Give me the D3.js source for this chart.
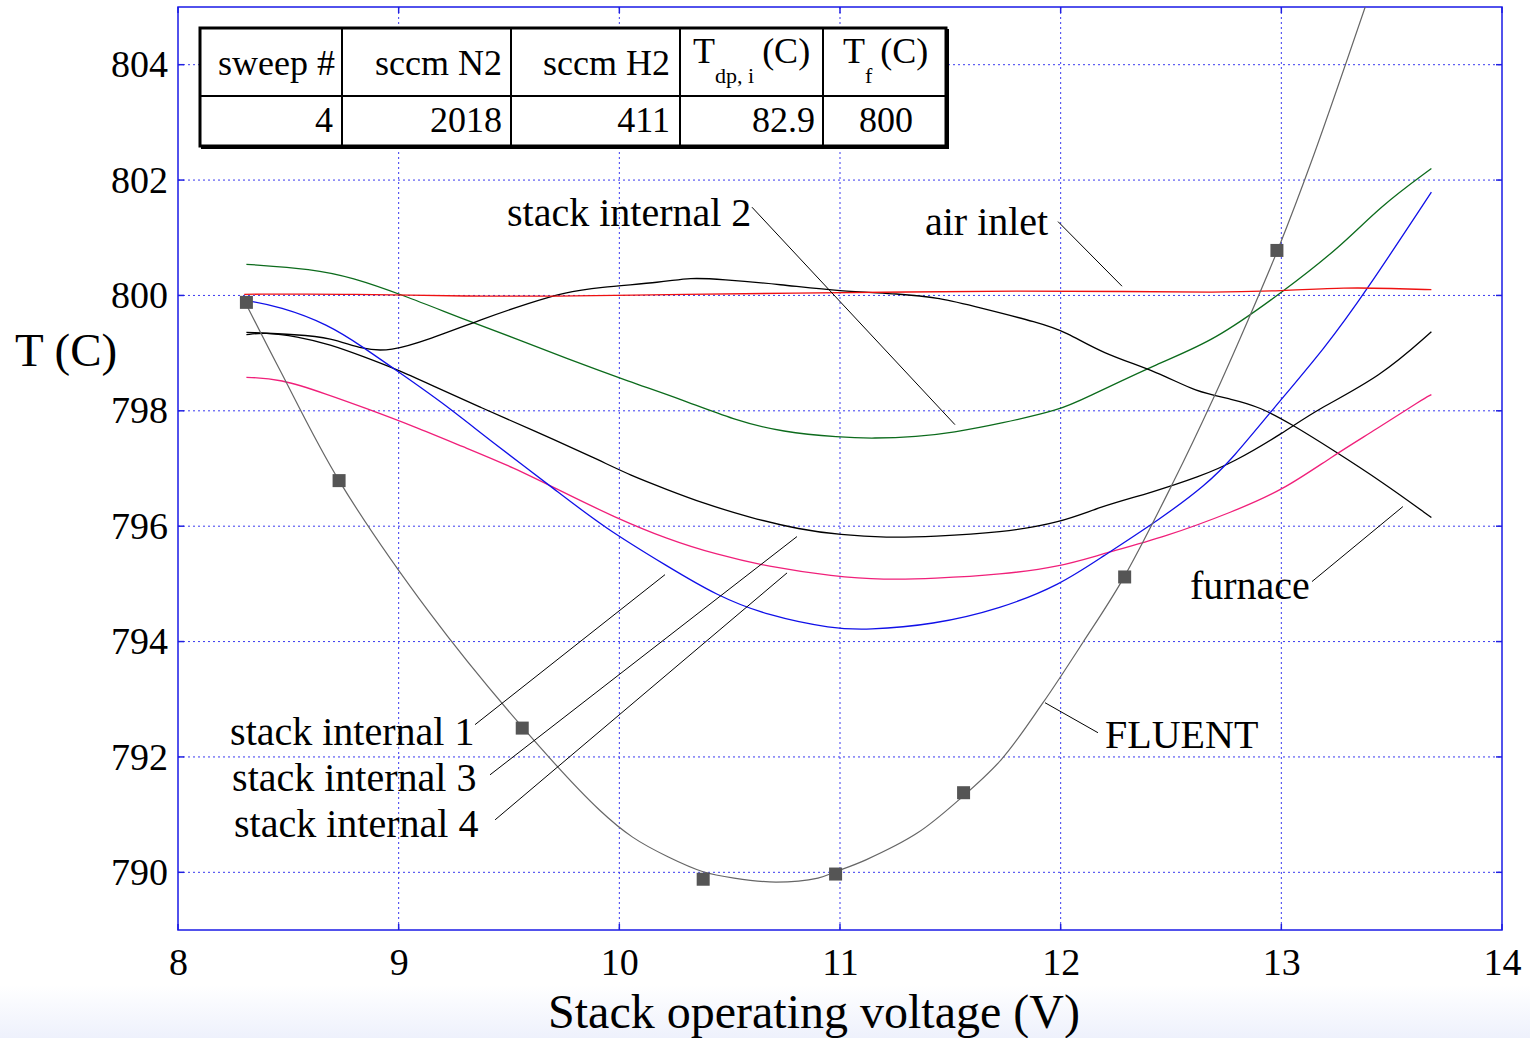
<!DOCTYPE html>
<html>
<head>
<meta charset="utf-8">
<script src="https://cdn.jsdelivr.net/npm/d3@7"></script>
<style>
  body { margin: 0; background: #fff; }
  svg { display: block; font-family: "Liberation Serif", "Times New Roman", serif; }
  .tick text { fill: #000; }
</style>
</head>
<body>
<div id="chart"></div>
<script>
// 1: DATA
const xTicks = [8, 9, 10, 11, 12, 13, 14];
const yTicks = [790, 792, 794, 796, 798, 800, 802, 804];

// air inlet (red)
const airV = [8.3, 8.8, 9.3, 9.8, 10.3, 10.8, 11.3, 11.8, 12.3, 12.7, 13.0, 13.3, 13.5, 13.68];
const airT = [800.02, 800.03, 799.98, 799.99, 800.02, 800.04, 800.06, 800.08, 800.07, 800.05, 800.08, 800.14, 800.12, 800.1];

// stack internal 2 (green)
const si2V = [8.31, 8.61, 8.79, 9.01, 9.32, 9.54, 9.75, 10.05, 10.28, 10.52, 10.74, 11.0, 11.15, 11.35, 11.51, 11.73, 12.0, 12.1, 12.45, 12.69, 13.01, 13.27, 13.45, 13.68];
const si2T = [800.54, 800.46, 800.31, 800.02, 799.55, 799.24, 798.92, 798.5, 798.2, 797.84, 797.63, 797.54, 797.52, 797.55, 797.62, 797.78, 798.02, 798.2, 798.84, 799.2, 800.07, 800.85, 801.55, 802.2];

// stack internal 1 (blue)
const si1V = [8.31, 8.46, 8.68, 8.84, 8.99, 9.2, 9.41, 9.72, 9.93, 10.22, 10.44, 10.67, 10.97, 11.12, 11.42, 11.73, 12.0, 12.18, 12.45, 12.66, 12.78, 12.96, 13.2, 13.38, 13.68];
const si1T = [799.91, 799.81, 799.5, 799.1, 798.7, 798.14, 797.5, 796.6, 795.98, 795.3, 794.8, 794.45, 794.22, 794.2, 794.29, 794.57, 794.99, 795.45, 796.12, 796.72, 797.18, 798.02, 799.1, 800.05, 801.79];

// furnace (black, upper)
const furV = [8.31, 8.54, 8.69, 8.84, 8.96, 9.14, 9.37, 9.6, 9.75, 9.9, 10.2, 10.32, 10.46, 10.73, 11.0, 11.27, 11.45, 11.63, 11.9, 12.03, 12.18, 12.45, 12.61, 12.78, 12.9, 13.05, 13.23, 13.46, 13.68];
const furT = [799.36, 799.32, 799.27, 799.06, 799.03, 799.24, 799.58, 799.88, 800.05, 800.14, 800.23, 800.31, 800.28, 800.19, 800.07, 800.03, 799.96, 799.79, 799.53, 799.36, 799.01, 798.66, 798.33, 798.2, 798.07, 797.76, 797.33, 796.76, 796.15];

// stack internal 3 (black, lower)
const si3V = [8.31, 8.39, 8.54, 8.69, 8.84, 8.99, 9.14, 9.37, 9.6, 9.9, 10.05, 10.22, 10.37, 10.59, 10.82, 11.0, 11.21, 11.42, 11.73, 12.0, 12.18, 12.41, 12.63, 12.78, 13.01, 13.16, 13.45, 13.68];
const si3T = [799.32, 799.36, 799.29, 799.15, 798.94, 798.72, 798.46, 798.06, 797.68, 797.16, 796.88, 796.63, 796.41, 796.15, 795.94, 795.85, 795.8, 795.82, 795.89, 796.06, 796.34, 796.58, 796.86, 797.1, 797.62, 798.02, 798.59, 799.37];

// stack internal 4 (pink)
const si4V = [8.31, 8.46, 8.68, 8.84, 9.07, 9.29, 9.52, 9.75, 9.97, 10.22, 10.44, 10.67, 10.97, 11.2, 11.42, 11.73, 12.0, 12.18, 12.48, 12.78, 13.01, 13.23, 13.43, 13.64, 13.68];
const si4T = [798.58, 798.56, 798.28, 798.06, 797.73, 797.38, 797.02, 796.58, 796.17, 795.77, 795.51, 795.3, 795.13, 795.07, 795.09, 795.16, 795.3, 795.51, 795.82, 796.25, 796.63, 797.21, 797.68, 798.2, 798.28];

// FLUENT points (squares) and its fitted curve (grey)
const fluentV = [8.31, 8.73, 9.56, 10.38, 10.98, 11.56, 12.29, 12.98];
const fluentT = [799.88, 796.79, 792.5, 789.88, 789.97, 791.38, 795.12, 800.78];
const fitV = [8.31, 8.46, 8.73, 9.14, 9.56, 9.91, 10.06, 10.22, 10.38, 10.52, 10.71, 10.9, 10.98, 11.12, 11.35, 11.54, 11.73, 11.92, 12.1, 12.28, 12.51, 12.69, 12.85, 12.99, 13.14, 13.38];
const fitT = [799.84, 798.72, 796.79, 794.5, 792.52, 791.08, 790.61, 790.27, 790.01, 789.9, 789.83, 789.9, 790.01, 790.22, 790.68, 791.26, 791.95, 792.94, 793.98, 795.07, 796.76, 798.2, 799.58, 800.85, 802.36, 805.0];

// table
const tableHead = ["sweep #", "sccm N2", "sccm H2"];
const tableRow = ["4", "2018", "411", "82.9", "800"];

// annotations: [label, textV, textT, leader start V,T, leader end V,T]
const notes = [
  ["stack internal 2", 9.491, 801.21, 10.601, 801.53, 11.521, 797.76],
  ["air inlet", 11.385, 801.04, 11.988, 801.28, 12.278, 800.16],
  ["furnace", 12.586, 794.73, 13.139, 795.04, 13.551, 796.34],
  ["FLUENT", 12.201, 792.16, 12.169, 792.42, 11.929, 792.94],
  ["stack internal 1", 8.236, 792.21, 9.346, 792.56, 10.207, 795.16],
  ["stack internal 3", 8.245, 791.41, 9.414, 791.69, 10.805, 795.82],
  ["stack internal 4", 8.254, 790.61, 9.437, 790.91, 10.760, 795.19]
];

// 2: SVG
const W = 1530, H = 1038;
const margin = { top: 7, right: 28, bottom: 108, left: 178 },
      width = W - margin.left - margin.right,
      height = H - margin.top - margin.bottom;

const svg = d3.select("#chart").append("svg")
    .attr("width", W).attr("height", H);

// faint bluish band at the bottom of the page
const grad = svg.append("defs").append("linearGradient")
    .attr("id", "bottomFade").attr("x1", 0).attr("y1", 0).attr("x2", 0).attr("y2", 1);
grad.append("stop").attr("offset", "0%").attr("stop-color", "#ffffff");
grad.append("stop").attr("offset", "100%").attr("stop-color", "#eef1fc");
svg.append("rect").attr("x", 0).attr("y", 985).attr("width", W).attr("height", H - 985)
    .attr("fill", "url(#bottomFade)");

const g = svg.append("g").attr("transform", `translate(${margin.left},${margin.top})`);

// 3: SCALES
const x = d3.scaleLinear().domain([8, 14]).range([0, width]);
const y = d3.scaleLinear().domain([789, 805]).range([height, 0]);

// 4: GRID
g.append("g").selectAll("line").data(xTicks.slice(1, -1)).enter().append("line")
    .attr("x1", d => x(d)).attr("x2", d => x(d)).attr("y1", 0).attr("y2", height)
    .attr("stroke", "#3a3af0").attr("stroke-width", 1).attr("stroke-dasharray", "2,3");
g.append("g").selectAll("line").data(yTicks).enter().append("line")
    .attr("y1", d => y(d)).attr("y2", d => y(d)).attr("x1", 0).attr("x2", width)
    .attr("stroke", "#3a3af0").attr("stroke-width", 1).attr("stroke-dasharray", "2,3");

// 5: AXES
const xAxis = g.append("g").attr("transform", `translate(0,${height})`)
    .call(d3.axisBottom(x).tickValues(xTicks).tickFormat(d3.format("d")).tickSize(0).tickPadding(18));
xAxis.select(".domain").remove();
xAxis.selectAll("text").attr("font-size", 38).attr("font-family", "Liberation Serif");

const yAxis = g.append("g")
    .call(d3.axisLeft(y).tickValues(yTicks).tickFormat(d3.format("d")).tickSize(0).tickPadding(10));
yAxis.select(".domain").remove();
yAxis.selectAll("text").attr("font-size", 38).attr("font-family", "Liberation Serif");

// small inner ticks on all four edges
const edge = g.append("g").attr("stroke", "#2020e0").attr("stroke-width", 1.5);
yTicks.forEach(t => {
  edge.append("line").attr("x1", 0).attr("x2", 6).attr("y1", y(t)).attr("y2", y(t));
  edge.append("line").attr("x1", width - 6).attr("x2", width).attr("y1", y(t)).attr("y2", y(t));
});
xTicks.forEach(t => {
  edge.append("line").attr("y1", 0).attr("y2", 6).attr("x1", x(t)).attr("x2", x(t));
  edge.append("line").attr("y1", height - 6).attr("y2", height).attr("x1", x(t)).attr("x2", x(t));
});

// frame
g.append("rect").attr("width", width).attr("height", height)
    .attr("fill", "none").attr("stroke", "#1a1ae6").attr("stroke-width", 1.5);

// 6: LINES
const pairs = (vs, ts) => vs.map((v, i) => [v, ts[i]]);
const smooth = d3.line().x(d => x(d[0])).y(d => y(d[1])).curve(d3.curveBasis);
const fitLine = d3.line().x(d => x(d[0])).y(d => y(d[1])).curve(d3.curveCatmullRom);

g.append("defs").append("clipPath").attr("id", "plotClip")
    .append("rect").attr("width", width).attr("height", height);
const plot = g.append("g").attr("clip-path", "url(#plotClip)");

const series = [
  [si2V, si2T, "#0c6b1c"],
  [furV, furT, "#000000"],
  [si3V, si3T, "#000000"],
  [si4V, si4T, "#f0207a"],
  [si1V, si1T, "#1010e8"],
  [airV, airT, "#ee1111"]
];
series.forEach(s => {
  plot.append("path").datum(pairs(s[0], s[1]))
      .attr("d", smooth).attr("fill", "none")
      .attr("stroke", s[2]).attr("stroke-width", 1.3);
});

// FLUENT fit and squares
plot.append("path").datum(pairs(fitV, fitT))
    .attr("d", fitLine).attr("fill", "none").attr("stroke", "#666").attr("stroke-width", 1.2);
plot.selectAll("rect.fluent").data(pairs(fluentV, fluentT)).enter().append("rect")
    .attr("class", "fluent")
    .attr("x", d => x(d[0]) - 6.5).attr("y", d => y(d[1]) - 6.5)
    .attr("width", 13).attr("height", 13).attr("fill", "#555");

// 7: ANNOTATIONS
notes.forEach(n => {
  g.append("line")
      .attr("x1", x(n[3])).attr("y1", y(n[4])).attr("x2", x(n[5])).attr("y2", y(n[6]))
      .attr("stroke", "#000").attr("stroke-width", 1);
  g.append("text").attr("x", x(n[1])).attr("y", y(n[2]))
      .attr("font-size", 40).text(n[0]);
});

// 8: TABLE
const tb = { x: 200, y: 28, w: 746, h: 118, rowY: 96 };
const colX = [200, 342, 511, 680, 823, 946];
const tg = svg.append("g");
tg.append("rect").attr("x", tb.x + 2).attr("y", tb.y + 2).attr("width", tb.w).attr("height", tb.h)
    .attr("fill", "none").attr("stroke", "#000").attr("stroke-width", 2);
tg.append("rect").attr("x", tb.x).attr("y", tb.y).attr("width", tb.w).attr("height", tb.h)
    .attr("fill", "#fff").attr("stroke", "#000").attr("stroke-width", 3);
tg.append("line").attr("x1", tb.x).attr("x2", tb.x + tb.w).attr("y1", tb.rowY).attr("y2", tb.rowY)
    .attr("stroke", "#000").attr("stroke-width", 2);
colX.slice(1, -1).forEach(cx => {
  tg.append("line").attr("x1", cx).attr("x2", cx).attr("y1", tb.y).attr("y2", tb.y + tb.h)
      .attr("stroke", "#000").attr("stroke-width", 2);
});
// header
const headRight = [335, 502, 670];
tableHead.forEach((h, i) => {
  tg.append("text").attr("x", headRight[i]).attr("y", 75).attr("text-anchor", "end")
      .attr("font-size", 36).text(h);
});
const tdp = tg.append("text").attr("x", 693).attr("y", 63).attr("font-size", 36);
tdp.append("tspan").text("T");
tdp.append("tspan").attr("font-size", 22).attr("dy", 20).text("dp, i");
tdp.append("tspan").attr("dx", 8).attr("dy", -20).text("(C)");
const tf = tg.append("text").attr("x", 843).attr("y", 63).attr("font-size", 36);
tf.append("tspan").text("T");
tf.append("tspan").attr("font-size", 22).attr("dy", 20).text("f");
tf.append("tspan").attr("dx", 8).attr("dy", -20).text("(C)");
// values
const valRight = [333, 502, 670, 815, 913];
tableRow.forEach((v, i) => {
  tg.append("text").attr("x", valRight[i]).attr("y", 132).attr("text-anchor", "end")
      .attr("font-size", 36).text(v);
});

// 9: AXIS LABELS
svg.append("text").attr("x", 814).attr("y", 1028).attr("text-anchor", "middle")
    .attr("font-size", 48).text("Stack operating voltage (V)");
svg.append("text").attr("x", 15).attr("y", 366)
    .attr("font-size", 47).text("T (C)");
</script>
</body>
</html>
